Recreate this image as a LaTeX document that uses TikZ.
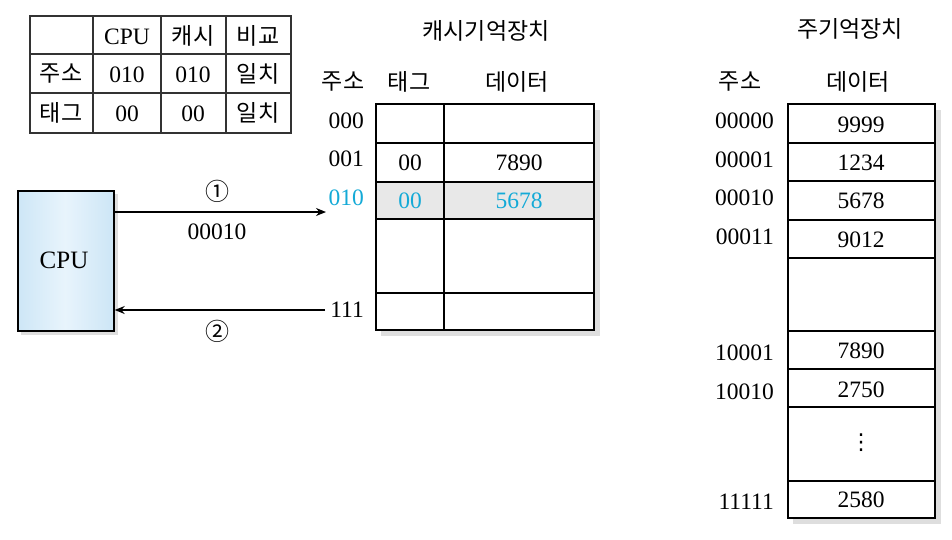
\documentclass[tikz,border=0pt]{standalone}
\usepackage{fontspec}
\setmainfont{Liberation Serif}
\newfontfamily\kr{Noto Sans CJK KR}
\newfontfamily\dv{DejaVu Sans}
\usetikzlibrary{arrows.meta}
\definecolor{cy}{RGB}{20,170,215}
\definecolor{cpuA}{RGB}{205,230,246}
\definecolor{cpuB}{RGB}{232,244,252}
\definecolor{hl}{RGB}{232,232,232}
\begin{document}
\begin{tikzpicture}[x=1pt,y=-1pt,
 num/.style={inner sep=0pt,font=\fontsize{23.5}{23.5}\selectfont},
 krt/.style={inner sep=0pt,font=\kr\fontsize{23}{23}\selectfont},
 circ/.style={inner sep=0pt,font=\kr\fontsize{24}{24}\selectfont},
 grid/.style={draw=black!80,line width=1.1pt},
 box/.style={draw=black,line width=1.7pt},
 shadowc/.style={fill=black!13},
 arr/.style={line width=1.2pt,-{Stealth[length=10pt,width=8pt]}}]
\useasboundingbox (0,0) rectangle (952,539);
\fill[white] (0,0) rectangle (952,539);

% ---- comparison table
\draw[grid] (30,16) rectangle (291,133);
\draw[grid] (93,16) -- (93,133) (161,16) -- (161,133) (226,16) -- (226,133);
\draw[grid] (30,54) -- (291,54) (30,93) -- (291,93);
\node[num] (tcpu) at (127,37) {CPU};
\node[krt] (tcache) at (193,36) {캐시};
\node[krt] (tcmp) at (258,36) {비교};
\node[krt] (taddr) at (61,74) {주소};
\node[num] (ta1) at (127,75) {010};
\node[num] (ta2) at (193,75) {010};
\node[krt] (ta3) at (258,74) {일치};
\node[krt] (ttag) at (61,113) {태그};
\node[num] (tt1) at (127,114) {00};
\node[num] (tt2) at (193,114) {00};
\node[krt] (tt3) at (258,113) {일치};

% ---- CPU
\fill[shadowc] (21,194) rectangle (118,335);
\shade[left color=cpuA,right color=cpuA,middle color=cpuB] (17,190) rectangle (113,330);
\node[box,minimum width=96pt,minimum height=140pt,inner sep=0pt,anchor=north west] (cpu) at (17,190) {};
\node[num,font=\fontsize{25}{25}\selectfont] (cputxt) at (64,260) {CPU};

% ---- cache memory
\node[krt] (ctitle) at (486,31) {캐시기억장치};
\node[krt] (chaddr) at (343,82) {주소};
\node[krt] (chtag) at (409,82) {태그};
\node[krt] (chdata) at (517,82) {데이터};
\fill[shadowc] (381,110) rectangle (600,336);
\fill[white] (376,104) rectangle (594,330);
\fill[hl] (376,182) rectangle (594,219);
\draw[box] (376,104) rectangle (594,330);
\draw[box] (444,104) -- (444,330);
\draw[box] (376,143) -- (594,143) (376,182) -- (594,182) (376,219) -- (594,219) (376,293) -- (594,293);
\node[num,anchor=east] (l000) at (364,121) {000};
\node[num,anchor=east] (l001) at (364,159) {001};
\node[num,anchor=east,text=cy] (l010) at (364,198) {010};
\node[num,anchor=east] (l111) at (364,310) {111};
\node[num] (c1tag) at (410,163) {00};
\node[num] (c1dat) at (519,163) {7890};
\node[num,text=cy] (c2tag) at (410,201) {00};
\node[num,text=cy] (c2dat) at (519,201) {5678};

% ---- arrows
\coordinate (p1) at (326,212);
\draw[arr] (cpu.east |- p1) -- (p1);
\draw[arr,shorten <=5pt] (l111.west) -- (cpu.east |- l111.west);
\node[circ] (n1) at (217,191) {①};
\node[num] (addr) at (217,232) {00010};
\node[circ] (n2) at (217,331) {②};

% ---- main memory
\node[krt] (mtitle) at (850,29) {주기억장치};
\node[krt] (mhaddr) at (740,82) {주소};
\node[krt] (mhdata) at (858,82) {데이터};
\fill[shadowc] (793,110) rectangle (941,524);
\fill[white] (788,104) rectangle (935,518);
\draw[box] (788,104) rectangle (935,518);
\draw[box] (788,143) -- (935,143) (788,181) -- (935,181) (788,220) -- (935,220) (788,258) -- (935,258)
  (788,331) -- (935,331) (788,369) -- (935,369) (788,407) -- (935,407) (788,481) -- (935,481);
\node[num,anchor=east] (m0) at (774,121) {00000};
\node[num,anchor=east] (m1) at (774,160) {00001};
\node[num,anchor=east] (m2) at (774,198) {00010};
\node[num,anchor=east] (m3) at (774,237) {00011};
\node[num,anchor=east] (m4) at (774,353) {10001};
\node[num,anchor=east] (m5) at (774,392) {10010};
\node[num,anchor=east] (m6) at (774,502) {11111};
\node[num] (d0) at (861,125) {9999};
\node[num] (d1) at (861,163) {1234};
\node[num] (d2) at (861,201) {5678};
\node[num] (d3) at (861,240) {9012};
\node[num] (d4) at (861,351) {7890};
\node[num] (d5) at (861,390) {2750};
\node[num,font=\dv\fontsize{22}{22}\selectfont] (d6) at (861,443) {⋮};
\node[num] (d7) at (861,500) {2580};
\end{tikzpicture}
\end{document}
